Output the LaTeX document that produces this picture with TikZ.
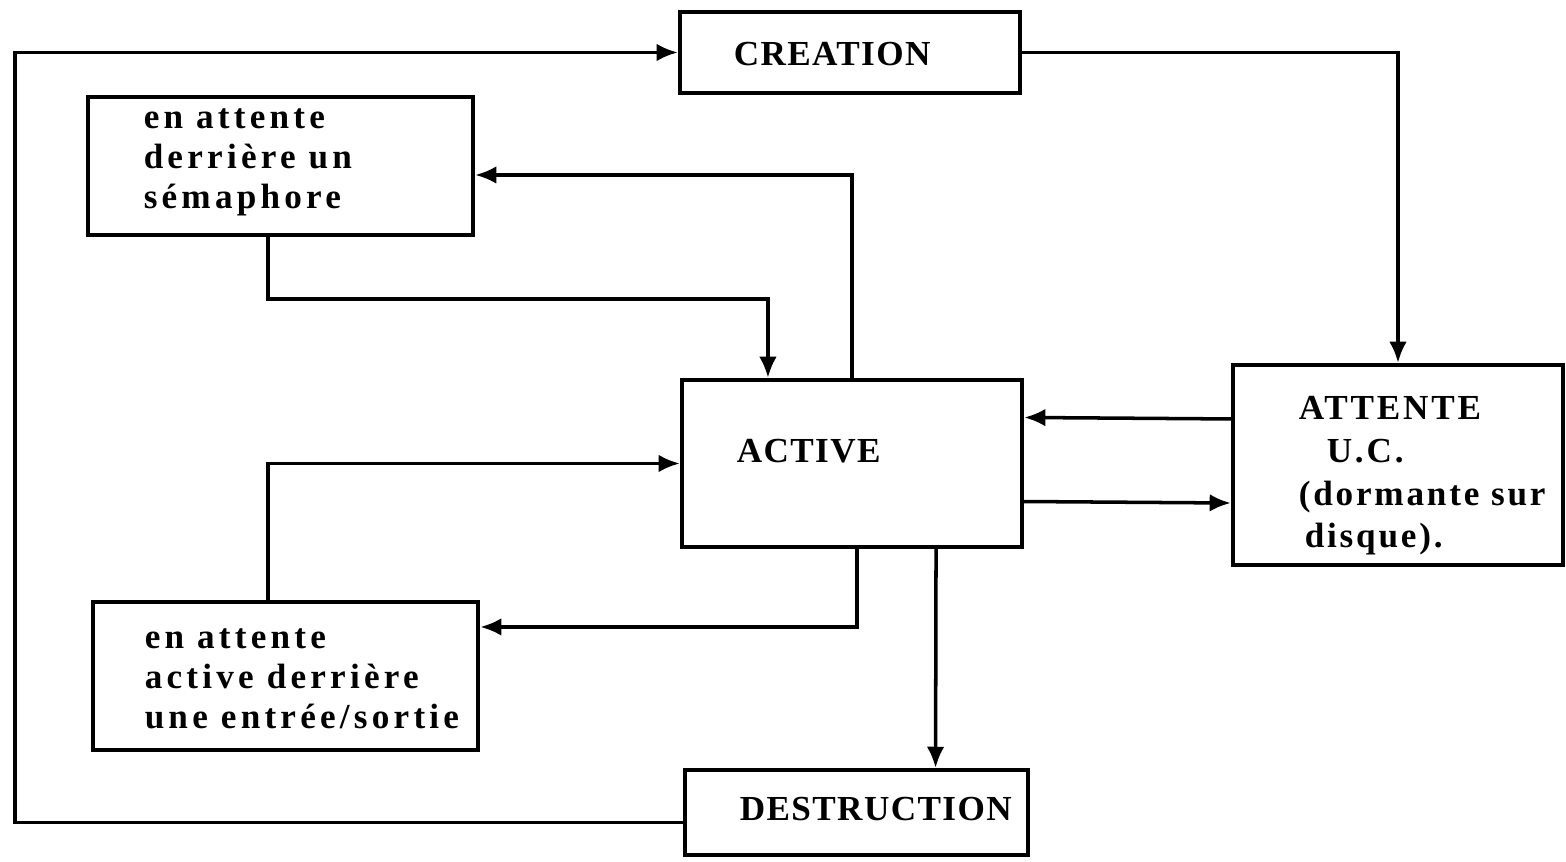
\documentclass[tikz,border=0pt]{standalone}
\usepackage{fontspec}
\setmainfont{Liberation Serif}
\newfontfamily\typefont[LetterSpace=12]{Liberation Serif}
\newfontfamily\typefontb[LetterSpace=8]{Liberation Serif}
\newfontfamily\capsfont[LetterSpace=4]{Liberation Serif}
\usetikzlibrary{arrows.meta,positioning}

\begin{document}
\begin{tikzpicture}[x=0.01cm, y=-0.01cm, ->, >={Latex[length=6pt,width=5pt]}, line width=1pt]
        \tikzstyle{box}=[draw, line width=1.2pt, inner sep=0pt, fill=white]
        \tikzstyle{caps}=[font=\capsfont\bfseries\fontsize{10}{12}\selectfont, anchor=base west, inner sep=0pt]
        \tikzstyle{lower}=[font=\typefont\bfseries\fontsize{10}{11.4}\selectfont, align=left, anchor=base west, inner sep=0pt]
        \useasboundingbox (0,0) rectangle (1566,862);
        % the six states
        \node[box, minimum width=3.4cm, minimum height=0.81cm]   (creation)    at (850,52.5)  {};
        \node[box, minimum width=3.85cm, minimum height=1.38cm]  (sema)        at (280.5,166) {};
        \node[box, minimum width=3.4cm, minimum height=1.67cm]   (active)      at (852,463.5) {};
        \node[box, minimum width=3.3cm, minimum height=2cm]      (attente)     at (1398,465)  {};
        \node[box, minimum width=3.85cm, minimum height=1.48cm]  (es)          at (285.5,676) {};
        \node[box, minimum width=3.43cm, minimum height=0.85cm]  (destruction) at (856.5,812.5) {};
        % texts (base = last line)
        \node[caps]  (creation-txt)    at (732,66)   {CREATION};
        \node[caps]  (active-txt)      at (735,463)  {ACTIVE};
        \node[caps]  (destruction-txt) at (738,821)  {DESTRUCTION};
        \node[lower] (sema-txt)        at (142,209)  {en attente\\derrière un\\sémaphore};
        \node[lower] (es-txt)          at (143,729)  {en attente\\active derrière\\une entrée/sortie};
        \node[lower, font=\typefontb\bfseries\fontsize{10}{12.2}\selectfont]
                     (attente-txt)     at (1297,548) {ATTENTE\\\hspace*{0.28cm}U.C.\\(dormante sur\\\hspace*{0.06cm}disque).};
        % transitions
        \coordinate (loop) at (15,400);
        \draw ([yshift=-0.1cm]destruction.west) -| (loop) |- (creation.west);
        \draw (creation.east) -| (attente.north);
        \draw (active.north) |- ([yshift=-0.09cm]sema.east);
        \draw ([xshift=-0.125cm]sema.south) -- ++(0,-0.62cm) -| ([xshift=-0.84cm]active.north);
        \draw ([yshift=0.46cm]attente.west) -- ([yshift=0.46cm]active.east);
        \draw ([yshift=-0.38cm]active.east) -- ([yshift=-0.38cm]attente.west);
        \draw ([xshift=0.05cm]active.south) |- ([yshift=0.49cm]es.east);
        \draw ([xshift=-0.175cm]es.north) |- (active.west);
        \draw ([xshift=0.84cm]active.south) -- ([xshift=0.79cm]destruction.north);
\end{tikzpicture}
\end{document}
